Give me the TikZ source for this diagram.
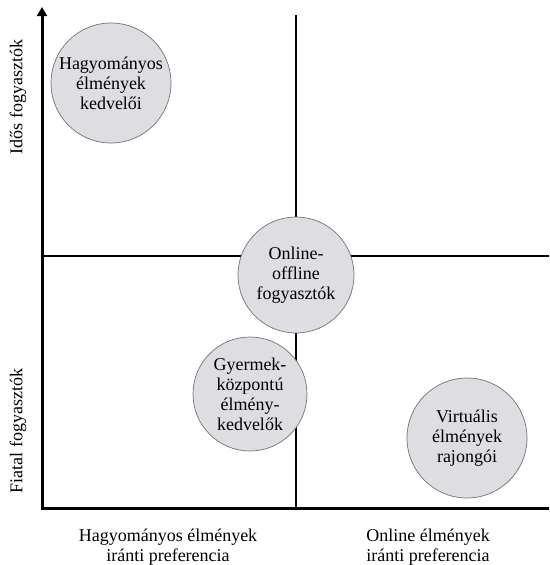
\documentclass[tikz,border=0pt]{standalone}
\usepackage{fontspec}
\setmainfont{Liberation Serif}
\usetikzlibrary{arrows.meta}
\definecolor{circfill}{RGB}{221,221,226}
\begin{document}
\begin{tikzpicture}[x=1pt,y=-1pt,
	grp/.style={circle,draw=black!55,line width=0.7pt,fill=circfill,minimum size=#1,inner sep=0pt,align=center,font=\fontsize{18}{20}\selectfont},
	grp/.default=120pt,
	lbl/.style={align=center,font=\fontsize{18}{20}\selectfont},
	axis/.style={line width=3pt,black},
	mid/.style={line width=2.5pt,black}]
		
		\useasboundingbox (0,0) rectangle (549,565);
		
		\coordinate (O) at (42,508);
		\coordinate (ytop) at (42,7);
		\coordinate (xend) at (549,508);
		\coordinate (mtop) at (296,15);
		\coordinate (mbot) at (296,508);
		\coordinate (hl) at (42,256);
		\coordinate (hr) at (549,256);
		
		\draw[mid](mtop)--(mbot);
		\draw[mid](hl)--(hr);
		\draw[axis,-{Triangle[length=9pt,width=10pt]}](xend)--(O)--(ytop);
		
		\node[grp] (trad) at (111,83){Hagyományos\\élmények\\kedvelői};
		\node[grp=116pt] (hybrid) at (296,275){Online-\\offline\\fogyasztók};
		\node[grp=114pt] (child) at (250,394){Gyermek-\\központú\\élmény-\\kedvelők};
		\node[grp] (virt) at (467,438){Virtuális\\élmények\\rajongói};
		
		\node[lbl,rotate=90] (old) at (18,97){Idős fogyasztók};
		\node[lbl,rotate=90] (young) at (18,431){Fiatal fogyasztók};
		\node[lbl] (tradpref) at (168,547){Hagyományos élmények\\iránti preferencia};
		\node[lbl] (onpref) at (428,547){Online élmények\\iránti preferencia};
		
\end{tikzpicture}
\end{document}
